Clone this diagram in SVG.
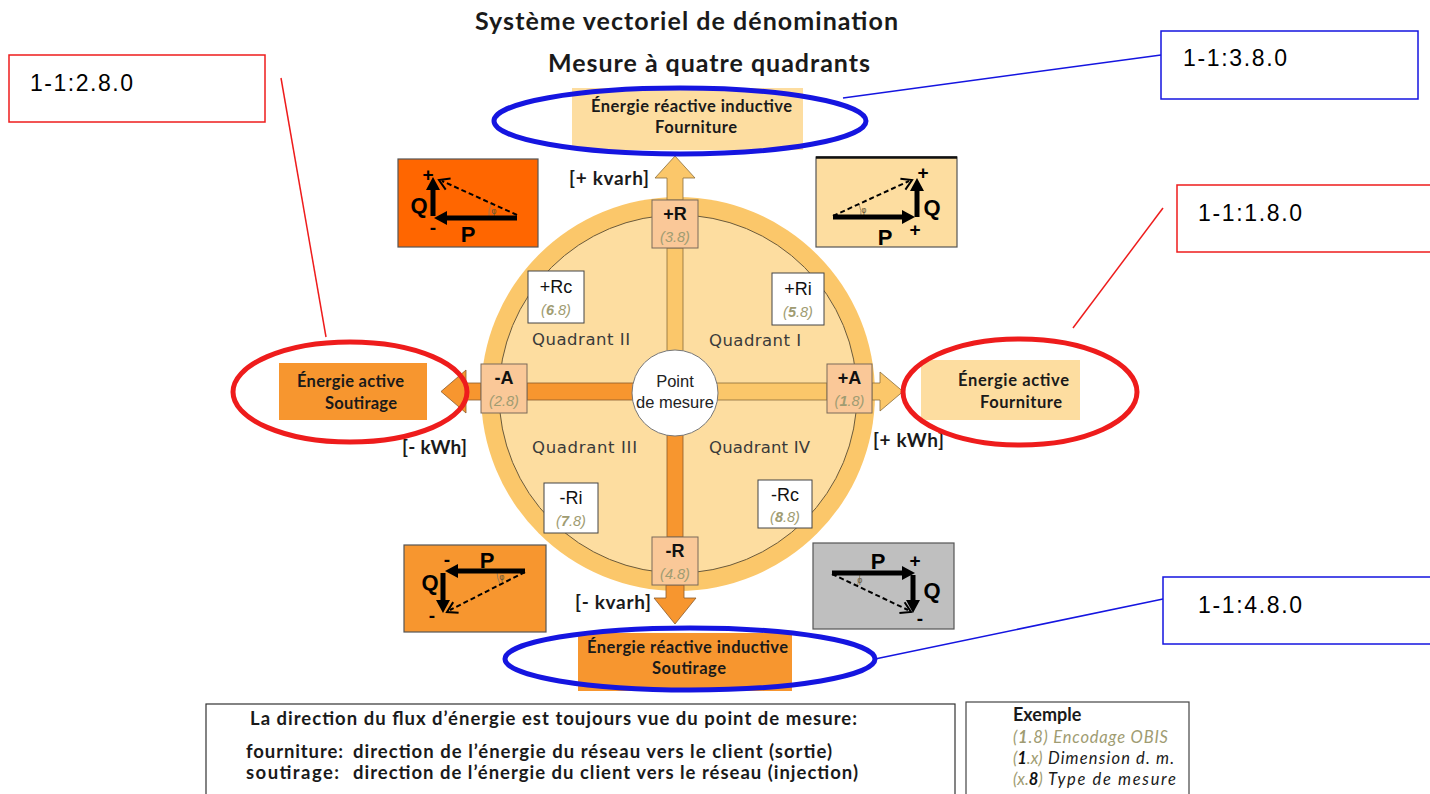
<svg xmlns="http://www.w3.org/2000/svg" width="1430" height="794" viewBox="0 0 1430 794">
<style>
.t{font-family:Lato,"Open Sans","Liberation Sans",sans-serif;fill:#1a1a1a}
.b{font-weight:bold}
.lbl{font-family:"Liberation Sans",Arial,sans-serif;font-size:23px;fill:#000}
.q{font-family:"DejaVu Sans",Verdana,sans-serif;font-size:16.5px;fill:#3a3a3a}
.bx{font-family:"Liberation Sans",Arial,sans-serif;font-size:18px;fill:#111;text-anchor:middle}
.pt{font-family:"Liberation Sans",Arial,sans-serif;font-size:16.5px;fill:#222;text-anchor:middle}
.ob{font-family:"Liberation Sans",Arial,sans-serif;font-size:14.5px;font-style:italic;fill:#a09c72;text-anchor:middle}
.vec{font-family:"Liberation Sans",Arial,sans-serif;font-weight:bold;fill:#000;text-anchor:middle}
.thick{stroke:#000;stroke-width:5;fill:none}
.dash{stroke:#000;stroke-width:2;stroke-dasharray:5 3;fill:none}
.head{fill:#000}
.open{stroke:#000;stroke-width:2;fill:none}
.phi{font-family:"DejaVu Sans",sans-serif;font-size:8px;fill:#6b5a3a;text-anchor:middle}
.ang{stroke:#8a7a60;stroke-width:0.8;fill:none}
.lt{fill:#FBC76A;stroke:#8a6d3b;stroke-width:0.8}
.dk{fill:#F7962F;stroke:#8a5a2b;stroke-width:0.8}
.pbox{fill:#FAC898;stroke:#7a6a5a;stroke-width:1}
.wbox{fill:#fff;stroke:#444;stroke-width:1}
.red{fill:none;stroke:#EE1C1C}
.blue{fill:none;stroke:#1515E0}
</style>

<g id="title">
<text class="t b" x="475" y="30" font-size="25" textLength="423">Système vectoriel de dénomination</text>
<text class="t b" x="548" y="72" font-size="25" textLength="322">Mesure à quatre quadrants</text>
</g>

<g id="wheel">
<circle cx="678" cy="394" r="197" fill="#FBC76A"/>
<circle cx="678" cy="394" r="179" fill="#FDDDA0" stroke="#6b5a3a" stroke-width="1"/>
</g>

<g id="connectors">
<rect class="lt" x="667" y="248" width="16" height="105"/>
<rect class="dk" x="667" y="434" width="16" height="103"/>
<rect class="dk" x="527" y="383" width="107" height="17"/>
<rect class="lt" x="716" y="383" width="111" height="17"/>
<polygon class="lt" points="667,200 667,178 655,178 675,156 695,178 683,178 683,200"/>
<polygon class="dk" points="666,585 666,598 654,598 675,624 696,598 684,598 684,585"/>
<polygon class="lt" points="872,383 880,383 880,372 903,391.5 880,411 880,400 872,400"/>
<polygon class="dk" points="481,383 466,383 466,370 441,391.5 466,413 466,400 481,400"/>
<line x1="281" y1="78" x2="326" y2="337" stroke="#EE1C1C" stroke-width="1.5"/>
<line x1="843" y1="98" x2="1161" y2="55" stroke="#1515E0" stroke-width="1.5"/>
<line x1="1073" y1="328" x2="1163" y2="208" stroke="#EE1C1C" stroke-width="1.5"/>
<line x1="875" y1="659" x2="1163" y2="599" stroke="#1515E0" stroke-width="1.5"/>
</g>

<g id="point">
<circle cx="675" cy="393" r="43" fill="#fff" stroke="#777" stroke-width="1"/>
<text class="pt" x="675" y="387">Point</text>
<text class="pt" x="675" y="408">de mesure</text>
</g>

<g id="quadrants">
<text class="q" x="532" y="345" textLength="98">Quadrant II</text>
<text class="q" x="709" y="346" textLength="92">Quadrant I</text>
<text class="q" x="532" y="453" textLength="105">Quadrant III</text>
<text class="q" x="709" y="453" textLength="101">Quadrant IV</text>
</g>

<g id="node-plusR">
<rect class="pbox" x="652" y="200" width="46" height="48"/>
<text class="bx b" x="675" y="220">+R</text>
<text class="ob" x="675" y="242">(3.8)</text>
</g>
<g id="node-minusR">
<rect class="pbox" x="652" y="537" width="46" height="48"/>
<text class="bx b" x="675" y="557">-R</text>
<text class="ob" x="675" y="579">(4.8)</text>
</g>
<g id="node-plusA">
<rect class="pbox" x="827" y="364" width="45" height="49"/>
<text class="bx b" x="849.5" y="384">+A</text>
<text class="ob" x="849.5" y="406">(<tspan font-weight="bold">1</tspan>.8)</text>
</g>
<g id="node-minusA">
<rect class="pbox" x="481" y="364" width="46" height="49"/>
<text class="bx b" x="504" y="384">-A</text>
<text class="ob" x="504" y="406">(2.8)</text>
</g>

<g id="node-plusRc">
<rect class="wbox" x="528" y="271" width="56" height="52"/>
<text class="bx" x="556" y="293">+Rc</text>
<text class="ob" x="556" y="315">(<tspan font-weight="bold">6</tspan>.8)</text>
</g>
<g id="node-plusRi">
<rect class="wbox" x="772" y="273" width="52" height="52"/>
<text class="bx" x="798" y="295">+Ri</text>
<text class="ob" x="798" y="317">(<tspan font-weight="bold">5</tspan>.8)</text>
</g>
<g id="node-minusRi">
<rect class="wbox" x="544" y="483" width="54" height="50"/>
<text class="bx" x="571" y="504">-Ri</text>
<text class="ob" x="571" y="526">(<tspan font-weight="bold">7</tspan>.8)</text>
</g>
<g id="node-minusRc">
<rect class="wbox" x="758" y="480" width="54" height="48"/>
<text class="bx" x="785" y="501">-Rc</text>
<text class="ob" x="785" y="522">(<tspan font-weight="bold">8</tspan>.8)</text>
</g>

<g id="units">
<text class="t b" x="569" y="185" font-size="19" textLength="80">[+ kvarh]</text>
<text class="t b" x="575" y="609" font-size="19" textLength="76">[- kvarh]</text>
<text class="t b" x="402" y="454" font-size="19" textLength="65">[- kWh]</text>
<text class="t b" x="873" y="447" font-size="19" textLength="71">[+ kWh]</text>
</g>

<g id="node-reactive-fourniture">
<rect x="572" y="88" width="231" height="62" fill="#FDDDA0"/>
<text class="t b" x="591" y="112" font-size="16.5" textLength="201">Énergie réactive inductive</text>
<text class="t b" x="655" y="133" font-size="16.5" textLength="82">Fourniture</text>
<ellipse class="blue" cx="680" cy="121" rx="186" ry="33" stroke-width="5"/>
</g>
<g id="node-reactive-soutirage">
<rect x="578" y="633" width="214" height="58" fill="#F7962F"/>
<text class="t b" x="587" y="653" font-size="16.5" textLength="201">Énergie réactive inductive</text>
<text class="t b" x="652" y="674" font-size="16.5" textLength="74">Soutirage</text>
<ellipse class="blue" cx="690" cy="659" rx="185" ry="31" stroke-width="5"/>
</g>
<g id="node-active-soutirage">
<rect x="279" y="363" width="148" height="57" fill="#F7962F"/>
<text class="t b" x="297" y="387" font-size="16.5" textLength="107">Énergie active</text>
<text class="t b" x="325" y="409" font-size="16.5" textLength="72">Soutirage</text>
<ellipse class="red" cx="350" cy="392" rx="117" ry="50" stroke-width="5"/>
</g>
<g id="node-active-fourniture">
<rect x="921" y="360" width="159" height="60" fill="#FDDDA0"/>
<text class="t b" x="958" y="386" font-size="16.5" textLength="111">Énergie active</text>
<text class="t b" x="980" y="408" font-size="16.5" textLength="82">Fourniture</text>
<ellipse class="red" cx="1020" cy="392" rx="117" ry="53" stroke-width="5"/>
</g>

<g id="label-2-8">
<rect x="9" y="55" width="256" height="67" fill="#fff" stroke="#EE1C1C" stroke-width="1.5"/>
<text class="lbl" x="30" y="91" textLength="103">1-1:2.8.0</text>
</g>
<g id="label-3-8">
<rect x="1161" y="31" width="257" height="68" fill="#fff" stroke="#1515E0" stroke-width="1.5"/>
<text class="lbl" x="1183" y="66" textLength="104">1-1:3.8.0</text>
</g>
<g id="label-1-8">
<rect x="1177" y="185" width="260" height="67" fill="#fff" stroke="#EE1C1C" stroke-width="1.5"/>
<text class="lbl" x="1198" y="221" textLength="104">1-1:1.8.0</text>
</g>
<g id="label-4-8">
<rect x="1163" y="577" width="272" height="67" fill="#fff" stroke="#1515E0" stroke-width="1.5"/>
<text class="lbl" x="1198" y="613" textLength="104">1-1:4.8.0</text>
</g>

<g id="vector-q2">
<rect x="398" y="159" width="140" height="88" fill="#FF6600" stroke="#555" stroke-width="1.2"/>
<path class="ang" d="M489,218 A28,28 0 0,1 491,204"/>
<text class="phi" x="494" y="214">φ</text>
<line class="dash" x1="517" y1="215" x2="442" y2="181"/>
<polyline class="open" points="450.6,178.6 439,180 445.7,189.6"/>
<line class="thick" x1="517" y1="218" x2="446" y2="218"/>
<polygon class="head" points="434,218 447,211 447,225"/>
<line class="thick" x1="433" y1="216" x2="433" y2="189"/>
<polygon class="head" points="433,177 426,190 440,190"/>
<text class="vec" x="428" y="181" font-size="19">+</text>
<text class="vec" x="433" y="234" font-size="19">-</text>
<text class="vec" x="419" y="213" font-size="22">Q</text>
<text class="vec" x="468" y="242" font-size="22">P</text>
</g>

<g id="vector-q1">
<rect x="816" y="157" width="141" height="90" fill="#FDDDA0" stroke="#555" stroke-width="1.2"/>
<line x1="816" y1="157.5" x2="957" y2="157.5" stroke="#111" stroke-width="2.5"/>
<path class="ang" d="M861,217 A28,28 0 0,0 859,204"/>
<text class="phi" x="864" y="213">φ</text>
<line class="dash" x1="833" y1="216" x2="909" y2="181"/>
<polyline class="open" points="905.4,189.6 912,180 900.4,178.7"/>
<line class="thick" x1="833" y1="217" x2="903" y2="217"/>
<polygon class="head" points="915,217 902,210 902,224"/>
<line class="thick" x1="917" y1="217" x2="917" y2="190"/>
<polygon class="head" points="917,178 910,191 924,191"/>
<text class="vec" x="923" y="179" font-size="19">+</text>
<text class="vec" x="915" y="236" font-size="19">+</text>
<text class="vec" x="932" y="215" font-size="22">Q</text>
<text class="vec" x="885" y="245" font-size="22">P</text>
</g>

<g id="vector-q3">
<rect x="404" y="545" width="142" height="87" fill="#F7962F" stroke="#555" stroke-width="1.2"/>
<path class="ang" d="M497,571 A28,28 0 0,0 500,584"/>
<text class="phi" x="502" y="580">φ</text>
<line class="dash" x1="525" y1="572" x2="450" y2="610"/>
<polyline class="open" points="458.6,612.8 447,612 453.2,602.1"/>
<line class="thick" x1="525" y1="571" x2="457" y2="571"/>
<polygon class="head" points="445,571 458,564 458,578"/>
<line class="thick" x1="443" y1="573" x2="443" y2="601"/>
<polygon class="head" points="443,613 436,600 450,600"/>
<text class="vec" x="447" y="566" font-size="19">-</text>
<text class="vec" x="432" y="622" font-size="19">-</text>
<text class="vec" x="430" y="590" font-size="22">Q</text>
<text class="vec" x="487" y="568" font-size="22">P</text>
</g>

<g id="vector-q4">
<rect x="813" y="543" width="141" height="86" fill="#BFBFBF" stroke="#555" stroke-width="1.2"/>
<path class="ang" d="M860,573 A28,28 0 0,1 857,586"/>
<text class="phi" x="860" y="583">φ</text>
<line class="dash" x1="832" y1="574" x2="908" y2="610"/>
<polyline class="open" points="899.4,613.1 911,612 904.6,602.3"/>
<line class="thick" x1="832" y1="573" x2="903" y2="573"/>
<polygon class="head" points="915,573 902,566 902,580"/>
<line class="thick" x1="913" y1="575" x2="913" y2="601"/>
<polygon class="head" points="913,613 906,600 920,600"/>
<text class="vec" x="915" y="567" font-size="19">+</text>
<text class="vec" x="920" y="625" font-size="19">-</text>
<text class="vec" x="932" y="598" font-size="22">Q</text>
<text class="vec" x="878" y="569" font-size="22">P</text>
</g>

<g id="note">
<rect x="206" y="704" width="749" height="100" fill="#fff" stroke="#333" stroke-width="1.2"/>
<text class="t b" x="250" y="725" font-size="18.5" textLength="607">La direction du flux d’énergie est toujours vue du point de mesure:</text>
<text class="t b" x="246" y="758" font-size="18.5" textLength="97">fourniture:</text>
<text class="t b" x="353" y="758" font-size="18.5" textLength="479">direction de l’énergie du réseau vers le client (sortie)</text>
<text class="t b" x="246" y="779" font-size="18.5" textLength="93">soutirage:</text>
<text class="t b" x="353" y="779" font-size="18.5" textLength="505">direction de l’énergie du client vers le réseau (injection)</text>
</g>

<g id="example">
<rect x="966" y="702" width="223" height="100" fill="#fff" stroke="#444" stroke-width="1.2"/>
<text class="t b" x="1013" y="721" font-size="18">Exemple</text>
<text class="t" x="1013" y="743" font-size="16.5" font-style="italic" style="fill:#a09c72" textLength="155">(<tspan font-weight="bold">1</tspan>.8) Encodage OBIS</text>
<text class="t" x="1013" y="764" font-size="16.5" font-style="italic" style="fill:#a09c72">(<tspan font-weight="bold" style="fill:#111">1</tspan>.x)</text>
<text class="t" x="1048" y="764" font-size="16.5" font-style="italic" textLength="126">Dimension d. m.</text>
<text class="t" x="1013" y="785" font-size="16.5" font-style="italic" style="fill:#a09c72">(x.<tspan font-weight="bold" style="fill:#111">8</tspan>)</text>
<text class="t" x="1048" y="785" font-size="16.5" font-style="italic" textLength="128">Type de mesure</text>
</g>
</svg>
